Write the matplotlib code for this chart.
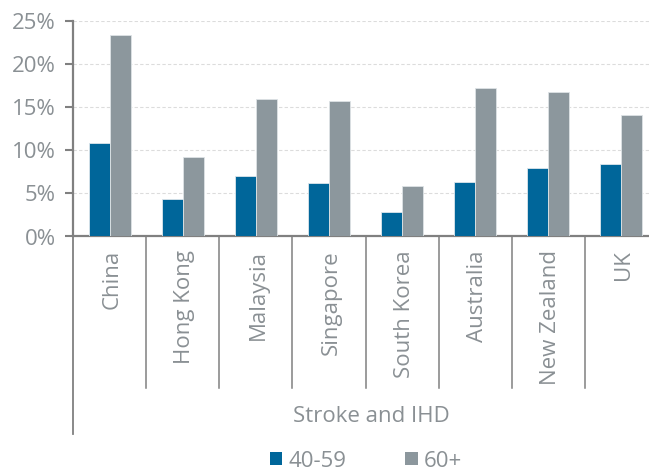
import numpy as np
import matplotlib.pyplot as plt
from matplotlib.lines import Line2D
from matplotlib.patches import Patch

# Data (share of deaths, %)
countries = ['China', 'Hong Kong', 'Malaysia', 'Singapore', 'South Korea',
             'Australia', 'New Zealand', 'UK']
age_40_59 = [10.8, 4.3, 7.0, 6.2, 2.8, 6.3, 8.0, 8.4]
age_60_plus = [23.4, 9.2, 15.9, 15.7, 5.9, 17.2, 16.8, 14.1]
group_label = 'Stroke and IHD'
y_ticks = [0, 5, 10, 15, 20, 25]

blue = '#00669A'
grey = '#8C979D'
text_grey = '#8A9094'
axis_grey = '#808080'
fs = 16

plt.rcParams['font.family'] = ['Open Sans', 'DejaVu Sans']

fig = plt.figure(figsize=(6.49, 4.73), dpi=100)
# plot area runs past the right edge of the image, as in the reference
ax = fig.add_axes([73 / 649, 236.5 / 473, 585 / 649, 215.5 / 473])

x = np.arange(len(countries))
w = 21 / 73
ax.bar(x - w / 2, age_40_59, w, color=blue, edgecolor='#DDE6EC', linewidth=0.6, zorder=3)
ax.bar(x + w / 2, age_60_plus, w, color=grey, edgecolor='#DDE3E6', linewidth=0.6, zorder=3)

ax.set_xlim(-0.5, len(countries) - 0.5)
ax.set_ylim(0, 25)
ax.set_yticks(y_ticks)
ax.set_yticklabels([f'{t}%' for t in y_ticks])
ax.tick_params(axis='y', length=5.5, width=1.5, color=axis_grey, labelsize=fs,
               labelcolor=text_grey, pad=7)
ax.set_xticks([])
ax.grid(axis='y', color='#DCDCDC', linestyle=(0, (3, 2)), linewidth=0.8, zorder=0)

for s in ['top', 'right']:
    ax.spines[s].set_visible(False)
ax.spines['bottom'].set_color(axis_grey)
ax.spines['bottom'].set_linewidth(1.6)
ax.spines['left'].set_color(axis_grey)
ax.spines['left'].set_linewidth(1.6)

# multi-level category axis
trans = ax.get_xaxis_transform()
sep_bottom = -(388 - 236.5) / 215.5
ax.add_line(Line2D([-0.5, -0.5], [0, -(434 - 236.5) / 215.5], transform=trans,
                   color=axis_grey, linewidth=1.3, clip_on=False))
for b in x[1:] - 0.5:
    ax.add_line(Line2D([b, b], [0, sep_bottom], transform=trans,
                       color=axis_grey, linewidth=1.1, clip_on=False))
for xi, name in zip(x, countries):
    ax.text(xi + 0.03, -(250 - 236.5) / 215.5, name, transform=trans, rotation=90,
            ha='center', va='top', fontsize=fs, color=text_grey)
ax.text(3.58, -(416 - 236.5) / 215.5, group_label, transform=trans,
        ha='center', va='center', fontsize=fs, color=text_grey)

handles = [Patch(facecolor=blue, label='40-59'), Patch(facecolor=grey, label='60+')]
fig.legend(handles=handles, loc='center', bbox_to_anchor=(366 / 649, 1 - 461 / 473),
           ncol=2, frameon=False, fontsize=fs, labelcolor=text_grey,
           handlelength=0.55, handleheight=0.55, handletextpad=0.3, columnspacing=2.65)

fig.savefig('out.png', dpi=100)
